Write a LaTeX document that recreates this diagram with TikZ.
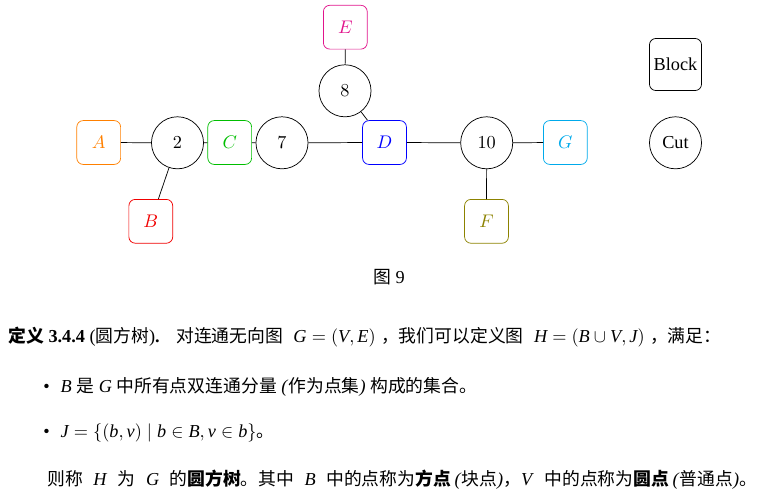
\documentclass[tikz,border=0pt]{standalone}
\usepackage{fontspec}
\setmainfont{Liberation Serif}
\newfontfamily\cjk[Scale=0.975]{Noto Sans CJK SC}
\usepackage{xcolor}
\usepackage{tikz}
\usetikzlibrary{positioning}

\definecolor{blkorange}{RGB}{255,128,0}
\definecolor{blkred}{RGB}{240,0,0}
\definecolor{blkgreen}{RGB}{0,190,0}
\definecolor{blkblue}{RGB}{0,0,255}
\definecolor{blkmagenta}{RGB}{225,20,140}
\definecolor{blkolive}{RGB}{140,130,0}
\definecolor{blkcyan}{RGB}{0,170,235}

\newcommand{\zh}[1]{{\cjk #1}}
\newcommand{\tv}[1]{\textit{#1}}
\newcommand{\gp}{\hspace{5.7pt}}

\tikzset{
  blocknode/.style={draw, rounded corners=3.5pt, minimum size=24pt, inner sep=1pt},
  cutnode/.style={draw, circle, minimum size=28.5pt, inner sep=1pt},
  textline/.style={anchor=west, inner sep=0pt}
}

\begin{document}
\begin{tikzpicture}[x=0.5475pt, y=-0.5475pt]
  \useasboundingbox (0,0) rectangle (768,498);
  % round points
  \node[cutnode] (c2) at (177.5,142.8) {$2$};
  \node[cutnode] (c7) at (282,142.8) {$7$};
  \node[cutnode] (c8) at (345,90.8) {$8$};
  \node[cutnode] (c10) at (486.7,142.8) {$10$};
  % square points
  \node[blocknode, blkorange] (bA) at (98.7,142.5) {$A$};
  \node[blocknode, blkred] (bB) at (150.8,221.3) {$B$};
  \node[blocknode, blkgreen] (bC) at (229.7,142.5) {$C$};
  \node[blocknode, blkblue] (bD) at (384.5,142.5) {$D$};
  \node[blocknode, blkmagenta] (bE) at (345.3,27.2) {$E$};
  \node[blocknode, blkolive] (bF) at (486.5,221.3) {$F$};
  \node[blocknode, blkcyan] (bG) at (565.3,142.5) {$G$};
  \draw (bA) -- (c2) -- (bC) -- (c7) -- (bD) -- (c10) -- (bG);
  \draw (c2) -- (bB);
  \draw (c10) -- (bF);
  \draw (bD) -- (c8) -- (bE);
  % legend
  \node[blocknode, minimum size=28.5pt] (lgblock) at (675.5,64.5) {Block};
  \node[cutnode] (lgcut) at (675.5,142.8) {Cut};
  \node (cap) at (389,277) {\zh{图} 9};
  % definition text
  \node[textline] (defline) at (8,337)
    {\zh{\bfseries 定义} \textbf{3.4.4} (\zh{圆方树})\textbf{.}\hspace{9pt}\zh{对连通无向图}\gp$\tv{G} = (\tv{V},\tv{E})$\hspace{3pt}\zh{，我们可以定义图}\gp$\tv{H} = (\tv{B} \cup \tv{V}, \tv{J})$\hspace{3pt}\zh{，满足：}};
  \node[textline] (itemB) at (43,387)
    {•\hspace{6pt}\tv{B} \zh{是} \tv{G} \zh{中所有点双连通分量} \textit{(}\zh{作为点集}\textit{)} \zh{构成的集合。}};
  \node[textline] (itemJ) at (43,433)
    {•\hspace{6pt}$\tv{J} = \{(\tv{b}, \tv{v}) \mid \tv{b} \in \tv{B}, \tv{v} \in \tv{b}\}$\zh{。}};
  \node[textline] (lastline) at (47,480)
    {\zh{则称}\gp\tv{H}\gp\zh{为}\gp\tv{G}\gp\zh{的{\bfseries 圆方树}。其中}\gp\tv{B}\gp\zh{中的点称为{\bfseries 方点}}\hspace{2pt}\textit{(}\zh{块点}\textit{)}\zh{，}\tv{V}\gp\zh{中的点称为{\bfseries 圆点}}\hspace{2pt}\textit{(}\zh{普通点}\textit{)}\zh{。}};
\end{tikzpicture}
\end{document}
